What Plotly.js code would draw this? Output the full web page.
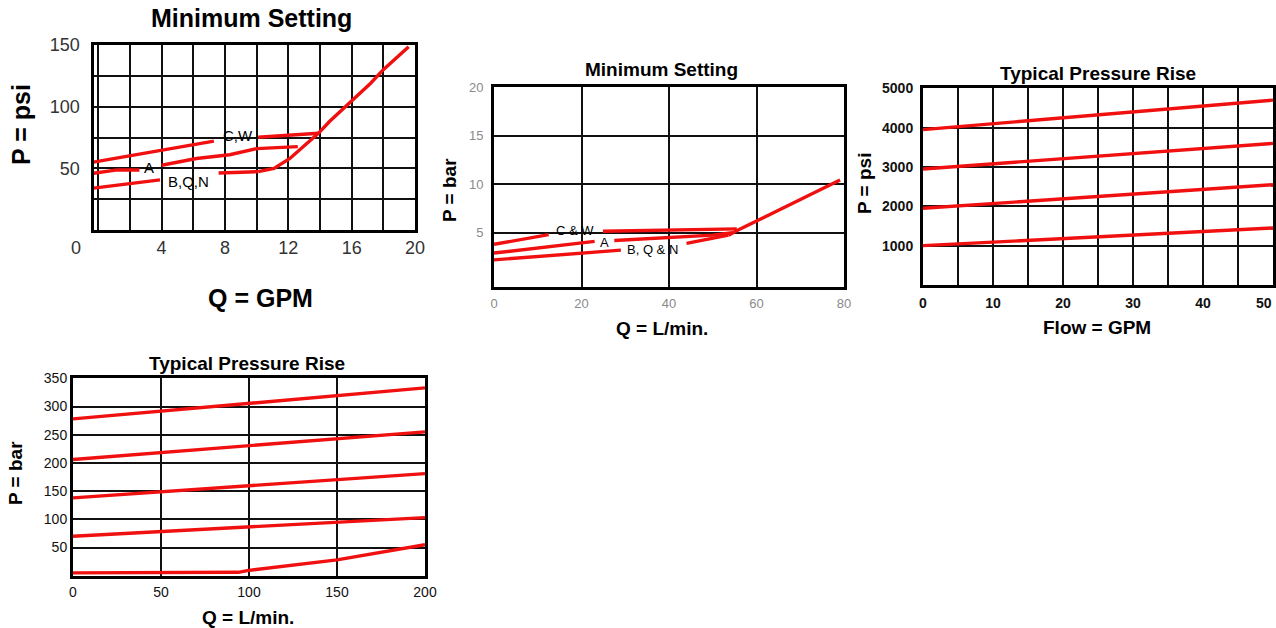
<!DOCTYPE html>
<html>
<head>
<meta charset="utf-8">
<script src="https://cdn.plot.ly/plotly-3.0.1.min.js"></script>
<style>
  html, body { margin: 0; padding: 0; background: #fff; }
  #chart { width: 1276px; height: 628px; }
</style>
</head>
<body>
<div id="chart"></div>
<script>
// ---------- Chart 1: Minimum Setting (Q = GPM, P = psi) ----------
const gpmCW1Q = [-0.3, 7.3];            const gpmCW1P = [55, 72];
const gpmCW2Q = [10.1, 13.9];           const gpmCW2P = [75.2, 78.4];
const gpmA1Q  = [-0.3, 1.2, 2.6];       const gpmA1P  = [46, 48.7, 48.7];
const gpmA2Q  = [4.0, 6.2, 8.3, 10.0, 12.6]; const gpmA2P = [52.5, 58, 61, 66, 67.6];
const gpmB1Q  = [-0.3, 3.9];            const gpmB1P  = [34, 40.6];
const gpmB2Q  = [7.6, 10.1];            const gpmB2P  = [46.2, 47.3];
const gpmMainQ = [10.1, 11.1, 12.1, 13.2, 13.9, 14.6, 15.7, 17.2, 18.0, 19.6];
const gpmMainP = [47.3, 50, 58, 70, 78.4, 88, 101, 119, 130, 148.6];
const c1XTicks = [4, 8, 12, 16, 20];
const c1YTicks = [50, 100, 150];

// ---------- Chart 2: Minimum Setting (Q = L/min., P = bar) ----------
const lpmCW1Q = [0, 12.5];              const lpmCW1P = [3.8, 4.8];
const lpmCW2Q = [24.9, 55.5];           const lpmCW2P = [5.15, 5.4];
const lpmA1Q  = [0, 23];                const lpmA1P  = [2.9, 4.1];
const lpmA2Q  = [27.5, 50, 54.5];       const lpmA2P  = [4.2, 4.75, 5.0];
const lpmB1Q  = [0, 29];                const lpmB1P  = [2.2, 3.2];
const lpmB2Q  = [44, 53.6];             const lpmB2P  = [3.9, 4.75];
const lpmMainQ = [53.6, 55.8, 79.1];    const lpmMainP = [4.75, 5.28, 10.44];
const c2XTicks = [0, 20, 40, 60, 80];
const c2YTicks = [5, 10, 15, 20];

// ---------- Chart 3: Typical Pressure Rise (Flow = GPM, P = psi) ----------
const riseGpmQ = [0, 50];
const risePsi1 = [3950, 4700];
const risePsi2 = [2950, 3600];
const risePsi3 = [1950, 2550];
const risePsi4 = [1000, 1450];
const c3XTicks = [0, 10, 20, 30, 40];
const c3XLastTick = '50';
const c3YTicks = [1000, 2000, 3000, 4000, 5000];

// ---------- Chart 4: Typical Pressure Rise (Q = L/min., P = bar) ----------
const riseLpmQ = [0, 200];
const riseBar1 = [278, 333];
const riseBar2 = [206, 255];
const riseBar3 = [138, 181];
const riseBar4 = [70, 103];
const riseBar5Q = [0, 94, 99, 150, 200];
const riseBar5P = [5, 6, 9, 28, 55];
const c4XTicks = [0, 50, 100, 150, 200];
const c4YTicks = [50, 100, 150, 200, 250, 300, 350];

// ---------- helpers (layout only) ----------
const W = 1276, H = 628;
const FONT = 'Liberation Sans, Arial, Helvetica, sans-serif';
const RED = 'rgb(240,16,16)';
const fx = p => p / W;
const fy = p => 1 - p / H;

function line(xs, ys, xa, ya) {
  return { x: xs, y: ys, xaxis: xa, yaxis: ya, type: 'scatter', mode: 'lines',
           line: { color: RED, width: 3.4 }, hoverinfo: 'skip', showlegend: false };
}

const traces = [
  line(gpmCW1Q, gpmCW1P, 'x', 'y'), line(gpmCW2Q, gpmCW2P, 'x', 'y'),
  line(gpmA1Q, gpmA1P, 'x', 'y'),   line(gpmA2Q, gpmA2P, 'x', 'y'),
  line(gpmB1Q, gpmB1P, 'x', 'y'),   line(gpmB2Q, gpmB2P, 'x', 'y'),
  line(gpmMainQ, gpmMainP, 'x', 'y'),

  line(lpmCW1Q, lpmCW1P, 'x2', 'y2'), line(lpmCW2Q, lpmCW2P, 'x2', 'y2'),
  line(lpmA1Q, lpmA1P, 'x2', 'y2'),   line(lpmA2Q, lpmA2P, 'x2', 'y2'),
  line(lpmB1Q, lpmB1P, 'x2', 'y2'),   line(lpmB2Q, lpmB2P, 'x2', 'y2'),
  line(lpmMainQ, lpmMainP, 'x2', 'y2'),

  line(riseGpmQ, risePsi1, 'x3', 'y3'), line(riseGpmQ, risePsi2, 'x3', 'y3'),
  line(riseGpmQ, risePsi3, 'x3', 'y3'), line(riseGpmQ, risePsi4, 'x3', 'y3'),

  line(riseLpmQ, riseBar1, 'x4', 'y4'), line(riseLpmQ, riseBar2, 'x4', 'y4'),
  line(riseLpmQ, riseBar3, 'x4', 'y4'), line(riseLpmQ, riseBar4, 'x4', 'y4'),
  line(riseBar5Q, riseBar5P, 'x4', 'y4')
];

function axis(opts) {
  const base = {
    showline: true, mirror: true, linecolor: '#000', linewidth: 3,
    showgrid: true, gridcolor: '#111', gridwidth: 2,
    zeroline: false, ticks: '', fixedrange: true,
    tickmode: 'array', ticklabeloverflow: 'allow'
  };
  return Object.assign(base, opts);
}

const layout = {
  width: W, height: H,
  margin: { l: 0, r: 0, t: 0, b: 0 },
  paper_bgcolor: '#fff', plot_bgcolor: '#fff',
  showlegend: false,
  font: { family: FONT, color: '#000' },

  // Chart 1
  xaxis: axis({ domain: [fx(93.5), fx(415)], range: [-0.3, 20], anchor: 'y',
    tickvals: c1XTicks, ticktext: c1XTicks.map(String),
    tickfont: { size: 18, color: '#333' }, ticklabelstandoff: -1,
    minor: { tickmode: 'linear', tick0: 0, dtick: 2, showgrid: true, gridcolor: '#111', gridwidth: 2 } }),
  yaxis: axis({ domain: [fy(230), fy(45)], range: [0, 150], anchor: 'x',
    tickvals: c1YTicks, ticktext: c1YTicks.map(String),
    tickfont: { size: 18, color: '#333' }, ticklabelstandoff: 7,
    minor: { tickmode: 'linear', tick0: 0, dtick: 25, showgrid: true, gridcolor: '#111', gridwidth: 2 } }),

  // Chart 2
  xaxis2: axis({ domain: [fx(494), fx(844)], range: [0, 80], anchor: 'y2',
    tickvals: c2XTicks, ticktext: c2XTicks.map(String),
    tickfont: { size: 13, color: '#8a8a8a' }, ticklabelstandoff: 3 }),
  yaxis2: axis({ domain: [fy(286.7), fy(87.3)], range: [-0.57, 20], anchor: 'x2',
    tickvals: c2YTicks, ticktext: c2YTicks.map(String),
    tickfont: { size: 13, color: '#8a8a8a' }, ticklabelstandoff: 5 }),

  // Chart 3
  xaxis3: axis({ domain: [fx(923), fx(1273)], range: [0, 50], anchor: 'y3',
    tickvals: c3XTicks, ticktext: c3XTicks.map(String),
    tickfont: { size: 14, color: '#111', weight: 'bold' }, ticklabelstandoff: 3,
    minor: { tickmode: 'linear', tick0: 0, dtick: 5, showgrid: true, gridcolor: '#111', gridwidth: 2 } }),
  yaxis3: axis({ domain: [fy(285), fy(88.3)], range: [0, 5000], anchor: 'x3',
    tickvals: c3YTicks, ticktext: c3YTicks.map(String),
    tickfont: { size: 14, color: '#111', weight: 'bold' }, ticklabelstandoff: 4 }),

  // Chart 4
  xaxis4: axis({ domain: [fx(73), fx(425)], range: [0, 200], anchor: 'y4',
    tickvals: c4XTicks, ticktext: c4XTicks.map(String),
    tickfont: { size: 14, color: '#111' }, ticklabelstandoff: 1 }),
  yaxis4: axis({ domain: [fy(575.7), fy(378.3)], range: [0, 350], anchor: 'x4',
    tickvals: c4YTicks, ticktext: c4YTicks.map(String),
    tickfont: { size: 14, color: '#111' }, ticklabelstandoff: 0 }),

  annotations: []
};

function paperText(text, x, y, size, opts) {
  return Object.assign({
    text: text, xref: 'paper', yref: 'paper', x: fx(x), y: fy(y),
    xanchor: 'center', yanchor: 'middle', showarrow: false,
    font: { family: FONT, size: size, color: '#000', weight: 'bold' }
  }, opts || {});
}
function dataText(text, xa, ya, x, y, size) {
  return {
    text: text, xref: xa, yref: ya, x: x, y: y,
    xanchor: 'center', yanchor: 'middle', showarrow: false,
    font: { family: FONT, size: size, color: '#000' }
  };
}

layout.annotations.push(
  // Chart 1
  paperText('Minimum Setting', 251, 18, 25),
  paperText('P = psi', 21, 125, 25, { textangle: -90 }),
  paperText('Q = GPM', 260, 298, 25),
  paperText('0', 76, 248, 18, { font: { family: FONT, size: 18, color: '#333' } }),
  dataText('C,W', 'x', 'y', 8.8, 77, 15),
  dataText('A', 'x', 'y', 3.2, 50.5, 15),
  dataText('B,Q,N', 'x', 'y', 5.7, 39.4, 15),

  // Chart 2
  paperText('Minimum Setting', 661, 70, 19),
  paperText('P = bar', 449, 190, 19, { textangle: -90 }),
  paperText('Q = L/min.', 662, 328, 19),
  dataText('C &amp; W', 'x2', 'y2', 18.6, 5.2, 13),
  dataText('A', 'x2', 'y2', 25.3, 4.0, 13),
  dataText('B, Q &amp; N', 'x2', 'y2', 36.3, 3.3, 13),

  // Chart 3
  paperText('Typical Pressure Rise', 1098, 73, 19),
  paperText('P = psi', 865, 184, 19, { textangle: -90 }),
  paperText('Flow = GPM', 1097, 327, 19),
  paperText(c3XLastTick, 1274, 303, 14, { xanchor: 'right',
    font: { family: FONT, size: 14, color: '#111', weight: 'bold' } }),

  // Chart 4
  paperText('Typical Pressure Rise', 247, 363, 19),
  paperText('P = bar', 15, 473, 19, { textangle: -90 }),
  paperText('Q = L/min.', 248, 617, 19)
);

Plotly.newPlot('chart', traces, layout, { displayModeBar: false, staticPlot: true });
</script>
</body>
</html>
